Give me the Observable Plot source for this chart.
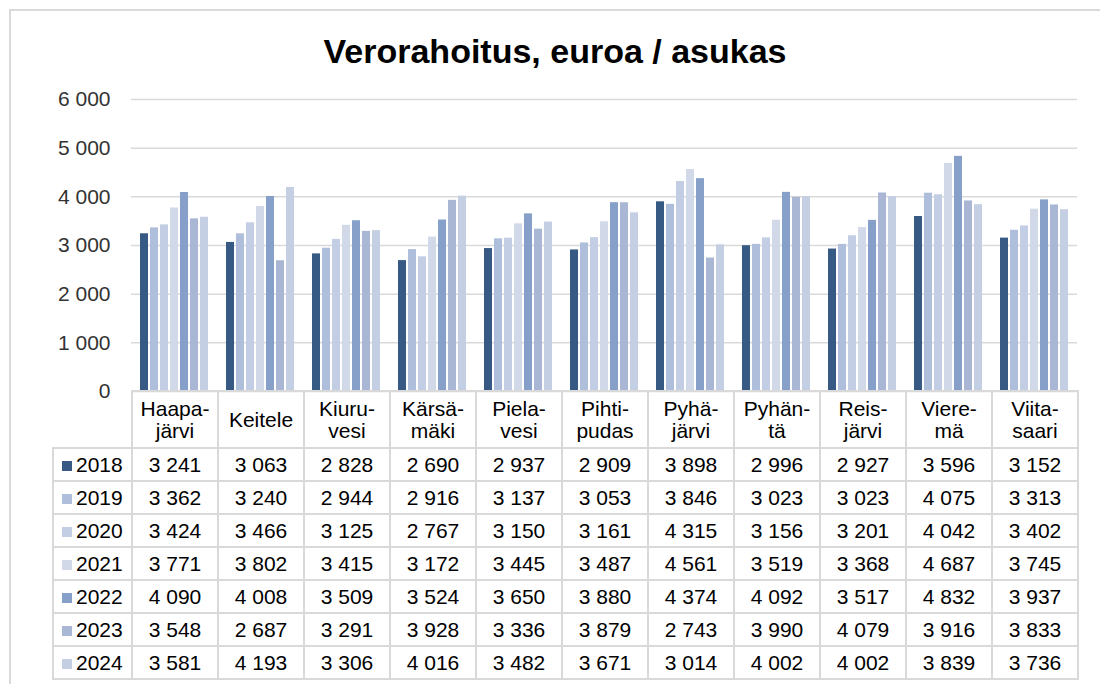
<!DOCTYPE html>
<html><head><meta charset="utf-8">
<script src="https://cdn.jsdelivr.net/npm/d3@7"></script>
<script src="https://cdn.jsdelivr.net/npm/@observablehq/plot@0.6"></script>
<style>
html,body{margin:0;padding:0;overflow:hidden;background:#fff;width:1100px;height:684px;}
body{font-family:"Liberation Sans",Arial,sans-serif;position:relative;}
#frame{position:absolute;left:9px;top:9px;width:1200px;height:800px;border:2px solid #d9d9d9;}
#title{position:absolute;left:10px;width:1090px;top:34px;text-align:center;font-weight:bold;font-size:34px;line-height:34px;color:#000;}
#chart{position:absolute;left:0;top:80px;}
#tbl{position:absolute;left:52px;top:390px;border-collapse:collapse;table-layout:fixed;width:1025px;font-size:21px;color:#000;}
#tbl td{border:2px solid #d9d9d9;text-align:center;padding:0;white-space:nowrap;}
#tbl tr.head td{height:55px;line-height:22px;}
#tbl tr.row td{height:31px;line-height:31px;}
#tbl td.corner{border-top-style:hidden;border-left-style:hidden;}
#tbl td.leg{text-align:left;padding-left:8px;}
.sw{display:inline-block;width:10px;height:10px;margin-right:4px;vertical-align:1px;}
</style></head><body>
<div id="frame"></div>
<div id="title">Verorahoitus, euroa / asukas</div>
<div id="chart"></div>
<table id="tbl"></table>
<script>
const categories = ["Haapajärvi","Keitele","Kiuruvesi","Kärsämäki","Pielavesi","Pihtipudas","Pyhäjärvi","Pyhäntä","Reisjärvi","Vieremä","Viitasaari"];
const categoryLabels = ["Haapa-\njärvi","Keitele","Kiuru-\nvesi","Kärsä-\nmäki","Piela-\nvesi","Pihti-\npudas","Pyhä-\njärvi","Pyhän-\ntä","Reis-\njärvi","Viere-\nmä","Viita-\nsaari"];
const years = ["2018","2019","2020","2021","2022","2023","2024"];
const v2018 = [3241,3063,2828,2690,2937,2909,3898,2996,2927,3596,3152];
const v2019 = [3362,3240,2944,2916,3137,3053,3846,3023,3023,4075,3313];
const v2020 = [3424,3466,3125,2767,3150,3161,4315,3156,3201,4042,3402];
const v2021 = [3771,3802,3415,3172,3445,3487,4561,3519,3368,4687,3745];
const v2022 = [4090,4008,3509,3524,3650,3880,4374,4092,3517,4832,3937];
const v2023 = [3548,2687,3291,3928,3336,3879,2743,3990,4079,3916,3833];
const v2024 = [3581,4193,3306,4016,3482,3671,3014,4002,4002,3839,3736];
const yTicks = [0,1000,2000,3000,4000,5000,6000];
const colors = ["#375a85","#afbfdb","#c3cee4","#d1d9e9","#87a0ca","#a9b7d5","#c5cfe4"];

const series = [v2018,v2019,v2020,v2021,v2022,v2023,v2024];
const data = [];
years.forEach((y,i)=>categories.forEach((c,j)=>data.push({category:c, year:y, value:series[i][j]})));
const fmt = n => d3.format(",")(n).replace(/,/g," ");

const plot = Plot.plot({
  width: 1100, height: 312,
  marginLeft: 131, marginRight: 23, marginTop: 19, marginBottom: 1,
  style: {fontSize: "21px", fontFamily: "Liberation Sans, Arial, sans-serif", color: "#333", background: "transparent", overflow: "visible"},
  fx: {domain: categories, padding: 0, axis: null},
  x: {domain: years, paddingInner: 0.2, paddingOuter: 0.9, axis: null},
  y: {domain: [0,6000], axis: null},
  color: {domain: years, range: colors},
  marks: [
    Plot.gridY(yTicks, {stroke: "#d9d9d9", strokeOpacity: 1, strokeWidth: 1.5}),
    Plot.barY(data, {fx: "category", x: "year", y: "value", fill: "year"}),
    Plot.axisY(yTicks, {tickSize: 0, tickPadding: 21, tickFormat: fmt, fill: "#333", label: null})
  ]
});
document.getElementById("chart").appendChild(plot);

// data table
const tbl = document.getElementById("tbl");
const cg = document.createElement("colgroup");
const c0 = document.createElement("col"); c0.style.width = "79px"; cg.appendChild(c0);
categories.forEach(()=>{const c=document.createElement("col"); c.style.width="86px"; cg.appendChild(c);});
tbl.appendChild(cg);
const head = document.createElement("tr"); head.className = "head";
const corner = document.createElement("td"); corner.className = "corner"; head.appendChild(corner);
categoryLabels.forEach(l=>{const td=document.createElement("td"); td.innerHTML = l.split("\n").join("<br>"); head.appendChild(td);});
tbl.appendChild(head);
years.forEach((y,i)=>{
  const tr = document.createElement("tr"); tr.className = "row";
  const td0 = document.createElement("td"); td0.className = "leg";
  const sw = document.createElement("span"); sw.className = "sw"; sw.style.background = colors[i];
  td0.appendChild(sw); td0.appendChild(document.createTextNode(y)); tr.appendChild(td0);
  series[i].forEach(v=>{const td=document.createElement("td"); td.textContent = fmt(v); tr.appendChild(td);});
  tbl.appendChild(tr);
});
</script>
</body></html>
